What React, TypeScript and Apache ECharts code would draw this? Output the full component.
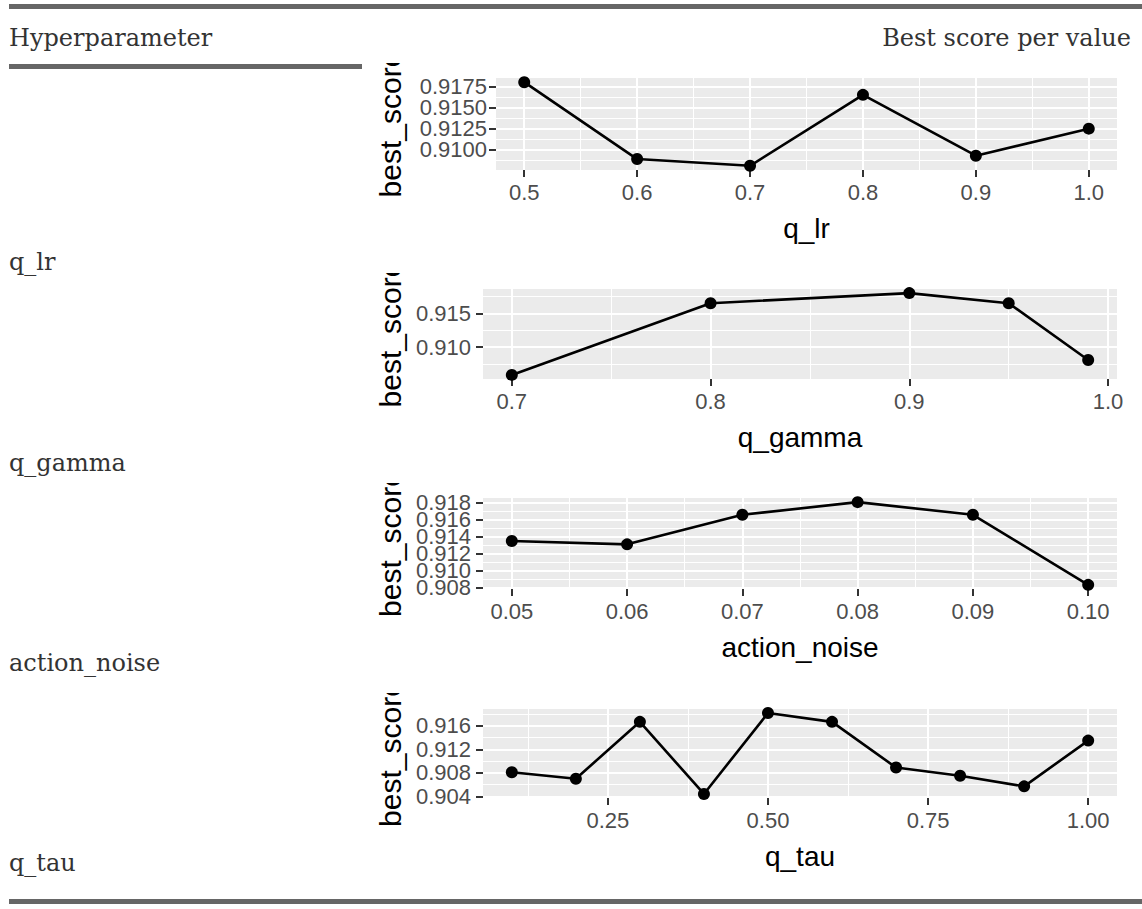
import React, { useEffect, useRef } from "react";
import * as echarts from "echarts";

// ---------- data ----------
const rowLabels = ["q_lr", "q_gamma", "action_noise", "q_tau"];
const headerLeft = "Hyperparameter";
const headerRight = "Best score per value";
const yTitle = "best_score";

const qLrValues = [0.5, 0.6, 0.7, 0.8, 0.9, 1.0];
const qLrScores = [0.918, 0.9089, 0.9081, 0.9165, 0.9093, 0.9125];
const qLrXTicks = [0.5, 0.6, 0.7, 0.8, 0.9, 1.0];
const qLrXMinor = [0.55, 0.65, 0.75, 0.85, 0.95];
const qLrYTicks = [0.91, 0.9125, 0.915, 0.9175];
const qLrYMinor = [0.90875, 0.91125, 0.91375, 0.91625];

const qGammaValues = [0.7, 0.8, 0.9, 0.95, 0.99];
const qGammaScores = [0.9059, 0.9165, 0.918, 0.9165, 0.9081];
const qGammaXTicks = [0.7, 0.8, 0.9, 1.0];
const qGammaXMinor = [0.75, 0.85, 0.95];
const qGammaYTicks = [0.91, 0.915];
const qGammaYMinor = [0.9075, 0.9125, 0.9175];

const actionNoiseValues = [0.05, 0.06, 0.07, 0.08, 0.09, 0.1];
const actionNoiseScores = [0.9135, 0.9131, 0.9166, 0.9181, 0.9166, 0.9083];
const actionNoiseXTicks = [0.05, 0.06, 0.07, 0.08, 0.09, 0.1];
const actionNoiseXMinor = [0.055, 0.065, 0.075, 0.085, 0.095];
const actionNoiseYTicks = [0.908, 0.91, 0.912, 0.914, 0.916, 0.918];
const actionNoiseYMinor = [0.909, 0.911, 0.913, 0.915, 0.917];

const qTauValues = [0.1, 0.2, 0.3, 0.4, 0.5, 0.6, 0.7, 0.8, 0.9, 1.0];
const qTauScores = [0.9081, 0.907, 0.9167, 0.9044, 0.9182, 0.9167, 0.9089, 0.9075, 0.9057, 0.9135];
const qTauXTicks = [0.25, 0.5, 0.75, 1.0];
const qTauXMinor = [0.125, 0.375, 0.625, 0.875];
const qTauYTicks = [0.904, 0.908, 0.912, 0.916];
const qTauYMinor = [0.906, 0.91, 0.914, 0.918];

const panels = [
  { name: "q_lr", xs: qLrValues, ys: qLrScores, xT: qLrXTicks, xM: qLrXMinor, yT: qLrYTicks, yM: qLrYMinor, xDec: 1, yDec: 4 },
  { name: "q_gamma", xs: qGammaValues, ys: qGammaScores, xT: qGammaXTicks, xM: qGammaXMinor, yT: qGammaYTicks, yM: qGammaYMinor, xDec: 1, yDec: 3 },
  { name: "action_noise", xs: actionNoiseValues, ys: actionNoiseScores, xT: actionNoiseXTicks, xM: actionNoiseXMinor, yT: actionNoiseYTicks, yM: actionNoiseYMinor, xDec: 2, yDec: 3 },
  { name: "q_tau", xs: qTauValues, ys: qTauScores, xT: qTauXTicks, xM: qTauXMinor, yT: qTauYTicks, yM: qTauYMinor, xDec: 2, yDec: 3 },
];

// ---------- layout ----------
const gridBoxes = [
  { left: 496, top: 78, width: 621, height: 92 },
  { left: 483, top: 289, width: 634, height: 90 },
  { left: 483, top: 498, width: 634, height: 91 },
  { left: 483, top: 709, width: 634, height: 89 },
];
const yLabelMargins = [9, 12, 12, 12];
const imageTops = [63, 273, 483, 693];
const labelMid = [262, 463, 663, 863];
const SANS = '"Liberation Sans", Arial, sans-serif';
const SERIF = '"DejaVu Serif", serif';

function expand(vals: number[]): [number, number] {
  const mn = Math.min(...vals);
  const mx = Math.max(...vals);
  const d = (mx - mn) * 0.05;
  return [mn - d, mx + d];
}

export default function App() {
  const ref = useRef<HTMLDivElement>(null);
  useEffect(() => {
    if (!ref.current) return;
    const chart = echarts.init(ref.current, null, { renderer: "svg", width: 1142, height: 909 });
    const grid: any[] = [];
    const xAxis: any[] = [];
    const yAxis: any[] = [];
    const series: any[] = [];
    panels.forEach((p, i) => {
      const g = gridBoxes[i];
      grid.push({ ...g, show: true, backgroundColor: "#EBEBEB", borderWidth: 0, containLabel: false, outerBoundsMode: "none" });
      grid.push({ ...g, show: false, containLabel: false, outerBoundsMode: "none" });
      const [xmin, xmax] = expand(p.xs);
      const [ymin, ymax] = expand(p.ys);
      const labelStyle = { color: "#4D4D4D", fontSize: 22, fontFamily: SANS, hideOverlap: false };
      const yEven = p.yT.filter((_, k) => k % 2 === 0);
      const yOdd = p.yT.filter((_, k) => k % 2 === 1);
      const yFmt = (v: number) => v.toFixed(p.yDec);
      // main x axis
      xAxis.push({
        gridIndex: 2 * i, type: "value", min: xmin, max: xmax, position: "bottom",
        axisLine: { show: false },
        axisTick: { show: true, length: 7, customValues: p.xT, lineStyle: { color: "#333", width: 2 } },
        axisLabel: { ...labelStyle, customValues: p.xT, margin: 11, formatter: (v: number) => v.toFixed(p.xDec) },
        splitLine: { show: true, lineStyle: { color: "#FFFFFF", width: 2 } },
        name: p.name, nameLocation: "middle", nameGap: 44, nameMoveOverlap: false,
        nameTextStyle: { color: "#000", fontSize: 28, fontFamily: SANS },
        z: 2,
      });
      // minor x grid lines
      xAxis.push({
        gridIndex: 2 * i, type: "value", min: xmin, max: xmax, position: "top",
        axisLine: { show: false },
        axisTick: { show: false, customValues: p.xM },
        axisLabel: { show: false, customValues: p.xM },
        splitLine: { show: true, lineStyle: { color: "#FFFFFF", width: 1 } },
        z: 1,
      });
      // overlay x axis (hidden)
      xAxis.push({ gridIndex: 2 * i + 1, type: "value", min: xmin, max: xmax, show: false });
      // main y axis: ticks at every major value, labels at every other one
      yAxis.push({
        gridIndex: 2 * i, type: "value", min: ymin, max: ymax, position: "left",
        axisLine: { show: false },
        axisTick: { show: true, length: 7, customValues: p.yT, lineStyle: { color: "#333", width: 2 } },
        axisLabel: { ...labelStyle, customValues: yEven, margin: yLabelMargins[i], formatter: yFmt },
        splitLine: { show: true, lineStyle: { color: "#FFFFFF", width: 2 } },
        name: yTitle, nameLocation: "middle", nameRotate: 90, nameGap: g.left - 405, nameMoveOverlap: false,
        nameTextStyle: { color: "#000", fontSize: 30, fontFamily: SANS },
        z: 2,
      });
      // minor y grid lines
      yAxis.push({
        gridIndex: 2 * i, type: "value", min: ymin, max: ymax, position: "right",
        axisLine: { show: false },
        axisTick: { show: false, customValues: p.yM },
        axisLabel: { show: false, customValues: p.yM },
        splitLine: { show: true, lineStyle: { color: "#FFFFFF", width: 1 } },
        z: 1,
      });
      // overlay y axis carrying the remaining labels
      yAxis.push({
        gridIndex: 2 * i + 1, type: "value", min: ymin, max: ymax, position: "left",
        axisLine: { show: false },
        axisTick: { show: false, length: 7, customValues: yOdd.length ? yOdd : [ymin] },
        axisLabel: { ...labelStyle, show: yOdd.length > 0, customValues: yOdd.length ? yOdd : [ymin], margin: yLabelMargins[i], formatter: yFmt },
        splitLine: { show: false },
        z: 2,
      });
      series.push({
        type: "line",
        xAxisIndex: 3 * i,
        yAxisIndex: 3 * i,
        data: p.xs.map((x, j) => [x, p.ys[j]]),
        symbol: "circle",
        symbolSize: 12,
        clip: false,
        lineStyle: { color: "#000", width: 2.6 },
        itemStyle: { color: "#000" },
        z: 5,
      });
    });

    const graphic: any[] = [
      { type: "rect", shape: { x: 9, y: 4, width: 1133, height: 5 }, style: { fill: "#666" }, z: 50 },
      { type: "rect", shape: { x: 9, y: 64, width: 353, height: 5 }, style: { fill: "#666" }, z: 50 },
      { type: "rect", shape: { x: 9, y: 899, width: 1133, height: 5 }, style: { fill: "#666" }, z: 50 },
      { type: "text", x: 9, y: 38, style: { text: headerLeft, font: `24px ${SERIF}`, fill: "#333", align: "left", verticalAlign: "middle" }, z: 50 },
      { type: "text", x: 1131, y: 38, style: { text: headerRight, font: `24px ${SERIF}`, fill: "#333", align: "right", verticalAlign: "middle" }, z: 50 },
    ];
    rowLabels.forEach((t, i) => {
      graphic.push({ type: "text", x: 9, y: labelMid[i], style: { text: t, font: `24px ${SERIF}`, fill: "#333", align: "left", verticalAlign: "middle" }, z: 50 });
      graphic.push({ type: "rect", shape: { x: 366, y: imageTops[i] - 45, width: 54, height: 45 }, style: { fill: "#FFFFFF" }, z: 40 });
    });

    chart.setOption({
      animation: false,
      backgroundColor: "#FFFFFF",
      grid,
      xAxis,
      yAxis,
      series,
      graphic,
    });
    return () => chart.dispose();
  }, []);
  return <div ref={ref} style={{ position: "fixed", left: 0, top: 0, width: 1142, height: 909 }} />;
}
